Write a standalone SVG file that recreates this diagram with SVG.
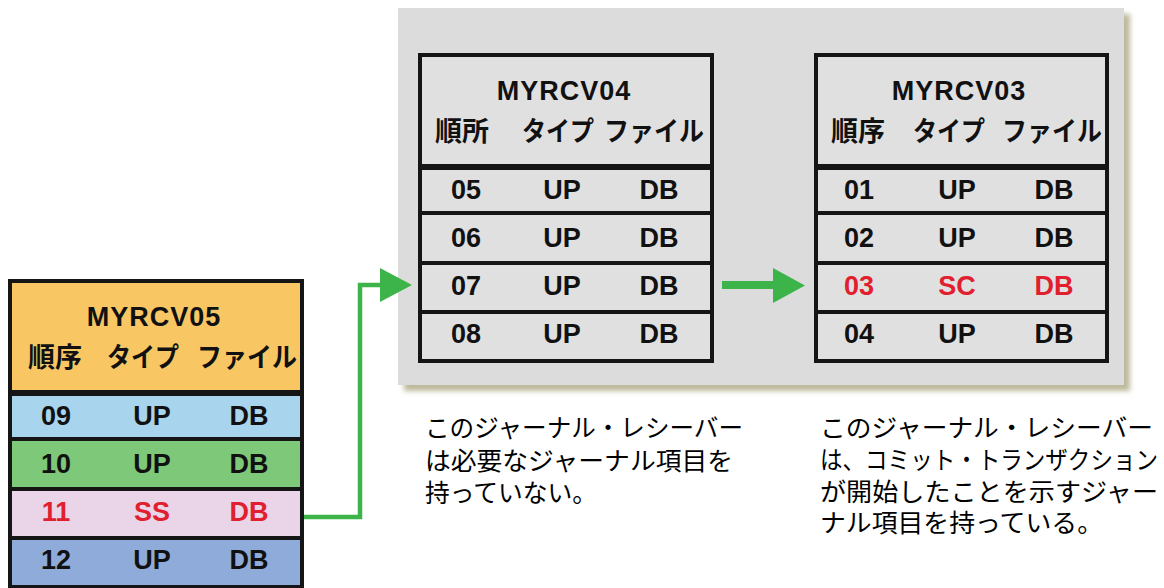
<svg xmlns="http://www.w3.org/2000/svg" width="1164" height="588" viewBox="0 0 1164 588">
<defs>
<filter id="sh" x="-5%" y="-5%" width="110%" height="110%"><feGaussianBlur stdDeviation="2.5"/></filter>
<style>
.lat{font-family:"Liberation Sans",Arial,sans-serif;font-weight:bold;font-size:27px;text-anchor:middle;fill:#111}
.ttl{letter-spacing:1px}
.red{fill:#e0202e}
.hdr{font-family:"Noto Sans CJK JP",sans-serif;font-weight:600;font-size:27px;text-anchor:middle;fill:#111}
.desc{font-family:"Noto Sans CJK JP",sans-serif;font-size:25px;fill:#000}
.frame{fill:none;stroke:#151515;stroke-width:4}
.sep{stroke:#151515;stroke-width:4}
.hsep{stroke:#151515;stroke-width:6}
.gray{fill:#e0e0e0}
.green{fill:#3cb44a}
</style>
</defs>
<g id="panel">
<rect x="404" y="14" width="726" height="377" fill="#bdb99c" filter="url(#sh)"/>
<rect x="398" y="8" width="726" height="377" fill="#dcdcdc"/>
</g>
<g id="connectors">
<polyline points="302,517 360,517 360,285 384,285" fill="none" stroke="#3cb44a" stroke-width="4.5"/>
<polygon class="green" points="380,268 412,285 380,302"/>
<rect class="green" x="722" y="281" width="53" height="8"/>
<polygon class="green" points="773,268 805,285.5 773,303"/>
</g>
<g id="MYRCV05" transform="translate(10,281)">
<rect x="0" y="0" width="292" height="112" fill="#f8c764"/>
<rect x="0" y="112" width="292" height="46" fill="#a9d4ee"/>
<rect x="0" y="158" width="292" height="50" fill="#7dc879"/>
<rect x="0" y="208" width="292" height="49" fill="#e9d5e7"/>
<rect x="0" y="257" width="292" height="50" fill="#8eabd9"/>
<line class="hsep" x1="0" y1="112" x2="292" y2="112"/>
<line class="sep" x1="0" y1="158" x2="292" y2="158"/>
<line class="sep" x1="0" y1="208" x2="292" y2="208"/>
<line class="sep" x1="0" y1="257" x2="292" y2="257"/>
<rect class="frame" x="0" y="0" width="292" height="306"/>
<text class="lat ttl" x="144" y="45">MYRCV05</text>
<text class="hdr" x="45" y="86">順序</text>
<text class="hdr" x="133" y="86" textLength="72" lengthAdjust="spacingAndGlyphs">タイプ</text>
<text class="hdr" x="237" y="86" textLength="100" lengthAdjust="spacingAndGlyphs">ファイル</text>
<text class="lat" x="46" y="144">09</text><text class="lat" x="142" y="144">UP</text><text class="lat" x="239" y="144">DB</text>
<text class="lat" x="46" y="192">10</text><text class="lat" x="142" y="192">UP</text><text class="lat" x="239" y="192">DB</text>
<text class="lat red" x="46" y="240">11</text><text class="lat red" x="142" y="240">SS</text><text class="lat red" x="239" y="240">DB</text>
<text class="lat" x="46" y="288">12</text><text class="lat" x="142" y="288">UP</text><text class="lat" x="239" y="288">DB</text>
</g>
<g id="MYRCV04" transform="translate(420,55)">
<rect class="gray" x="0" y="0" width="292" height="306"/>
<line class="hsep" x1="0" y1="112" x2="292" y2="112"/>
<line class="sep" x1="0" y1="158" x2="292" y2="158"/>
<line class="sep" x1="0" y1="208" x2="292" y2="208"/>
<line class="sep" x1="0" y1="257" x2="292" y2="257"/>
<rect class="frame" x="0" y="0" width="292" height="306"/>
<text class="lat ttl" x="144" y="45">MYRCV04</text>
<text class="hdr" x="42" y="86">順所</text>
<text class="hdr" x="138" y="86" textLength="72" lengthAdjust="spacingAndGlyphs">タイプ</text>
<text class="hdr" x="234" y="86" textLength="100" lengthAdjust="spacingAndGlyphs">ファイル</text>
<text class="lat" x="46" y="144">05</text><text class="lat" x="142" y="144">UP</text><text class="lat" x="239" y="144">DB</text>
<text class="lat" x="46" y="192">06</text><text class="lat" x="142" y="192">UP</text><text class="lat" x="239" y="192">DB</text>
<text class="lat" x="46" y="240">07</text><text class="lat" x="142" y="240">UP</text><text class="lat" x="239" y="240">DB</text>
<text class="lat" x="46" y="288">08</text><text class="lat" x="142" y="288">UP</text><text class="lat" x="239" y="288">DB</text>
</g>
<g id="MYRCV03" transform="translate(816,55)">
<rect class="gray" x="0" y="0" width="291" height="306"/>
<line class="hsep" x1="0" y1="112" x2="291" y2="112"/>
<line class="sep" x1="0" y1="158" x2="291" y2="158"/>
<line class="sep" x1="0" y1="208" x2="291" y2="208"/>
<line class="sep" x1="0" y1="257" x2="291" y2="257"/>
<rect class="frame" x="0" y="0" width="291" height="306"/>
<text class="lat ttl" x="143" y="45">MYRCV03</text>
<text class="hdr" x="42" y="86">順序</text>
<text class="hdr" x="133" y="86" textLength="72" lengthAdjust="spacingAndGlyphs">タイプ</text>
<text class="hdr" x="236" y="86" textLength="100" lengthAdjust="spacingAndGlyphs">ファイル</text>
<text class="lat" x="43" y="144">01</text><text class="lat" x="141" y="144">UP</text><text class="lat" x="238" y="144">DB</text>
<text class="lat" x="43" y="192">02</text><text class="lat" x="141" y="192">UP</text><text class="lat" x="238" y="192">DB</text>
<text class="lat red" x="43" y="240">03</text><text class="lat red" x="141" y="240">SC</text><text class="lat red" x="238" y="240">DB</text>
<text class="lat" x="43" y="288">04</text><text class="lat" x="141" y="288">UP</text><text class="lat" x="238" y="288">DB</text>
</g>
<g id="desc-left">
<text class="desc" x="425" y="437" textLength="318" lengthAdjust="spacingAndGlyphs">このジャーナル・レシーバー</text>
<text class="desc" x="425" y="470" textLength="308" lengthAdjust="spacingAndGlyphs">は必要なジャーナル項目を</text>
<text class="desc" x="425" y="502" textLength="172" lengthAdjust="spacingAndGlyphs">持っていない。</text>
</g>
<g id="desc-right">
<text class="desc" x="820" y="437" textLength="333" lengthAdjust="spacingAndGlyphs">このジャーナル・レシーバー</text>
<text class="desc" x="820" y="469" textLength="338" lengthAdjust="spacingAndGlyphs">は、コミット・トランザクション</text>
<text class="desc" x="820" y="501" textLength="338" lengthAdjust="spacingAndGlyphs">が開始したことを示すジャー</text>
<text class="desc" x="820" y="532" textLength="283" lengthAdjust="spacingAndGlyphs">ナル項目を持っている。</text>
</g>
</svg>
